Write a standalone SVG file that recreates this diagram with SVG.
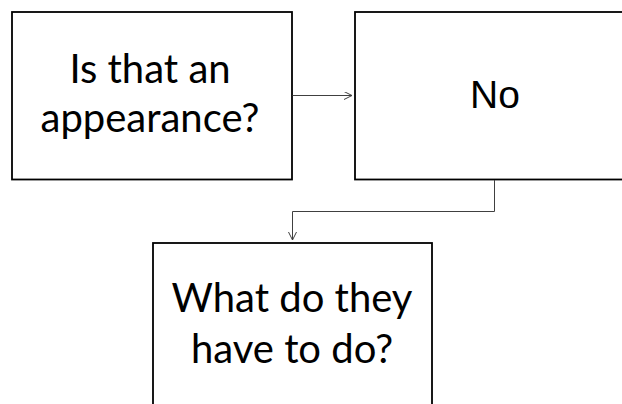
<svg xmlns="http://www.w3.org/2000/svg" width="622" height="404" viewBox="0 0 622 404">
<style>
.box{fill:#fff;stroke:#000;stroke-width:1.8}
.t{font-family:Lato,"Open Sans","Liberation Sans",sans-serif;font-size:40px;fill:#000;text-anchor:middle}
.n{font-family:"Liberation Sans",Arial,sans-serif;font-size:39px;fill:#000;text-anchor:middle}
.c{fill:none;stroke:#404040;stroke-width:1}
</style>
<defs>
<marker id="arr" markerWidth="10" markerHeight="10" refX="8" refY="4" orient="auto" markerUnits="userSpaceOnUse">
<path d="M0,0 L8,4 L0,8" fill="none" stroke="#404040" stroke-width="1"/>
</marker>
</defs>
<rect width="622" height="404" fill="#fff"/>
<g id="node1">
<rect class="box" x="12" y="12" width="280" height="167.5"/>
<text class="t" x="150" y="83">Is that an</text>
<text class="t" x="150" y="132">appearance?</text>
</g>
<g id="node2">
<rect class="box" x="355" y="12" width="280" height="167.5"/>
<text class="n" x="495" y="108">No</text>
</g>
<g id="node3">
<rect class="box" x="153" y="243" width="279" height="167.5"/>
<text class="t" x="292" y="311.5">What do they</text>
<text class="t" x="292" y="363">have to do?</text>
</g>
<g id="connectors">
<path class="c" d="M292.5,95.5 H352" marker-end="url(#arr)"/>
<path class="c" d="M494.5,180 V211.5 H292.5 V240" marker-end="url(#arr)"/>
</g>
</svg>
